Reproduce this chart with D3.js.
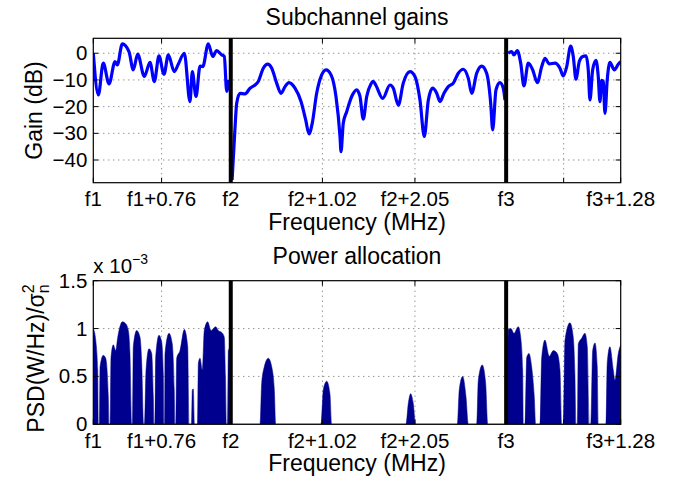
<!DOCTYPE html>
<html>
<head>
<meta charset="utf-8">
<script src="https://cdn.jsdelivr.net/npm/d3@7/dist/d3.min.js"></script>
<style>
  body { margin: 0; background: #fff; }
  svg { font-family: "Liberation Sans", Arial, Helvetica, sans-serif; }
</style>
</head>
<body>
<svg id="chart" width="675" height="481"></svg>
<script>
// frequency axis (MHz, bands glued together: f1 | f2 | f3)
const bandEdges = [1.53, 4.595];
const freqMax = 5.87;
const freqTicks = [0, 0.76, 1.53, 2.55, 3.58, 4.595, 5.235, 5.87];
const freqTickLabels = ['f1', 'f1+0.76', 'f2', 'f2+1.02', 'f2+2.05', 'f3', '', 'f3+1.28'];

const gainTicks = [0, -10, -20, -30, -40];
const psdTicks = [0, 0.5, 1, 1.5];
const psdTickLabels = ['0', '0.5', '1', '1.5'];

// subchannel gain, dB  [freq, gain]
const gainBand1 = [
  [0.000, 0], [0.056, -15.6], [0.111, -3.7], [0.175, -11.5], [0.242, -3.1], [0.267, -4.4],
  [0.323, 3.5], [0.397, 0.6], [0.445, -6.2], [0.494, -0.3], [0.568, -8.7], [0.631, -3.4],
  [0.679, -10.6], [0.731, -1], [0.787, -7.9], [0.835, -0.6], [0.901, -6.9], [0.946, -4.1],
  [1.013, 0], [1.076, -18.1], [1.102, -6.9], [1.143, -16.2], [1.188, -4.8], [1.218, -5],
  [1.280, 3.5], [1.329, -1.2], [1.373, 1], [1.429, -0.6], [1.458, -1.2], [1.485, -14.3],
  [1.510, -10]
];
const gainBand2 = [
  [1.545, -47.5], [1.576, -28.7], [1.596, -18.7], [1.633, -15], [1.689, -15.2], [1.745, -13.1],
  [1.800, -11.9], [1.836, -10.6], [1.892, -5.6], [1.941, -4.1], [1.986, -5.6], [2.041, -11.2],
  [2.089, -15], [2.134, -12.5], [2.178, -11], [2.245, -13.1], [2.312, -18.1], [2.364, -25],
  [2.401, -30.2], [2.437, -26.2], [2.486, -15], [2.542, -8.1], [2.590, -6.2], [2.646, -8.1],
  [2.701, -16.2], [2.746, -31.2], [2.757, -36.9], [2.782, -26.2], [2.820, -21.9], [2.876, -16.2],
  [2.932, -13.7], [2.968, -16.2], [3.005, -24.7], [3.043, -16.2], [3.090, -11.5], [3.115, -10.5],
  [3.145, -12], [3.221, -16.9], [3.302, -11.9], [3.339, -13.1], [3.395, -19.4], [3.450, -11.2],
  [3.525, -6.9], [3.580, -8.7], [3.636, -17.5], [3.684, -31.2], [3.729, -17.5], [3.777, -13.1],
  [3.822, -15], [3.859, -18.1], [3.903, -15], [3.951, -12.5], [4.007, -11.2], [4.062, -7.5],
  [4.118, -6], [4.174, -9.4], [4.212, -15], [4.267, -7.5], [4.323, -4.8], [4.378, -7.5],
  [4.423, -18.7], [4.445, -28.7], [4.482, -13.7], [4.526, -11], [4.563, -13.1], [4.582, -17.5]
];
const gainBand3 = [
  [4.619, 0], [4.657, 0.6], [4.682, -0.6], [4.719, 1], [4.757, -3.7], [4.793, -12.2],
  [4.841, -3.7], [4.890, -6.2], [4.942, -11], [4.991, -5], [5.027, -1.9], [5.075, -4],
  [5.139, -3.7], [5.194, -5.6], [5.231, -8.5], [5.269, -5], [5.313, 2.7], [5.342, -1.2],
  [5.372, -9.7], [5.409, -3.1], [5.447, -1.2], [5.484, -1], [5.509, -6.2], [5.528, -17.5],
  [5.558, -6.2], [5.595, -2.7], [5.620, -8.7], [5.639, -18.1], [5.658, -10.2], [5.676, -10.6],
  [5.695, -22.5], [5.720, -10], [5.750, -3.4], [5.799, -6.2], [5.843, -4.1], [5.870, -3.1]
];

// power allocation, PSD/sigma_n^2 in units of 1e-3  [freq, psd]
const psdBand1 = [
  [0.000, 1.0], [0.027, 0.88], [0.049, 0.57], [0.056, 0], [0.067, 0], [0.075, 0.6],
  [0.111, 0.72], [0.138, 0.69], [0.167, 0.29], [0.175, 0], [0.186, 0], [0.197, 0.70],
  [0.223, 0.83], [0.249, 0.77], [0.272, 0.91], [0.323, 1.07], [0.361, 1.05], [0.390, 0.98],
  [0.408, 0.74], [0.427, 0], [0.436, 0], [0.445, 0.81], [0.483, 0.98], [0.520, 0.91],
  [0.539, 0.64], [0.559, 0], [0.570, 0], [0.587, 0.57], [0.620, 0.79], [0.650, 0.74],
  [0.668, 0.29], [0.676, 0], [0.687, 0], [0.694, 0.70], [0.731, 0.93], [0.761, 0.86],
  [0.779, 0.53], [0.787, 0], [0.794, 0], [0.798, 0.74], [0.843, 0.95], [0.879, 0.84],
  [0.901, 0.36], [0.909, 0], [0.918, 0], [0.928, 0.69], [0.965, 0.77], [1.013, 0.99],
  [1.051, 0.81], [1.065, 0], [1.093, 0], [1.102, 0.36], [1.113, 0.37], [1.126, 0],
  [1.160, 0], [1.169, 0.64], [1.188, 0.69], [1.213, 0.57], [1.235, 0.98], [1.273, 1.07],
  [1.310, 0.98], [1.362, 1.02], [1.391, 0.98], [1.429, 0.96], [1.458, 0.91], [1.471, 0.5],
  [1.482, 0], [1.494, 0], [1.503, 0.77], [1.521, 0.8]
];
const psdBand2 = [
  [1.53, 0], [1.855, 0], [1.874, 0.43], [1.903, 0.6], [1.948, 0.69], [1.986, 0.6], [2.015, 0.36],
  [2.030, 0], [2.534, 0], [2.560, 0.36], [2.598, 0.45], [2.634, 0.32], [2.653, 0],
  [3.480, 0], [3.506, 0.22], [3.532, 0.32], [3.561, 0.22], [3.588, 0],
  [4.051, 0], [4.073, 0.36], [4.111, 0.5], [4.148, 0.29], [4.174, 0],
  [4.267, 0], [4.285, 0.46], [4.329, 0.62], [4.367, 0.43], [4.390, 0], [4.595, 0]
];
const psdBand3 = [
  [4.608, 0], [4.619, 0.99], [4.649, 1.0], [4.682, 0.95], [4.730, 1.02], [4.757, 0.91],
  [4.779, 0.57], [4.786, 0], [4.805, 0], [4.824, 0.7], [4.849, 0.74], [4.879, 0.6],
  [4.908, 0.29], [4.924, 0], [4.972, 0], [4.991, 0.7], [5.027, 0.88], [5.075, 0.71],
  [5.120, 0.77], [5.164, 0.74], [5.194, 0.57], [5.213, 0], [5.231, 0], [5.250, 0.88],
  [5.305, 1.06], [5.342, 0.91], [5.361, 0.5], [5.372, 0], [5.387, 0], [5.398, 0.84],
  [5.436, 0.9], [5.472, 0.95], [5.498, 0.81], [5.520, 0], [5.536, 0], [5.558, 0.77],
  [5.584, 0.85], [5.609, 0.6], [5.620, 0], [5.706, 0], [5.720, 0.64], [5.750, 0.81],
  [5.787, 0.57], [5.806, 0.46], [5.843, 0.74], [5.870, 0.83]
];

const svg = d3.select('#chart');
const left = 93.3, right = 620.7;
const tickLen = 5;

const xScale = d3.scaleLinear().domain([0, freqMax]).range([left, right]);
const yGain = d3.scaleLinear().domain([-48.5, 5.6]).range([182.7, 38.3]);
const yPsd = d3.scaleLinear().domain([0, 1.5]).range([424.3, 280.7]);

// frame, grid, ticks and labels for one subplot
function drawPanel(id, yScale, yTicks, yLabels) {
  const [bottom, top] = yScale.range();
  const g = svg.append('g').attr('id', id);

  svg.append('clipPath').attr('id', id + '-clip')
    .append('rect').attr('x', left).attr('y', top)
    .attr('width', right - left).attr('height', bottom - top);

  const grid = g.append('g').attr('stroke', '#000').attr('stroke-width', 0.8)
    .attr('stroke-dasharray', '1,4').attr('opacity', 0.75);
  freqTicks.filter(t => t > 0 && t < freqMax).forEach(t => {
    grid.append('line').attr('x1', xScale(t)).attr('x2', xScale(t))
      .attr('y1', top).attr('y2', bottom);
  });
  yTicks.forEach(t => {
    const y = yScale(t);
    if (Math.abs(y - top) < 1 || Math.abs(y - bottom) < 1) return;
    grid.append('line').attr('x1', left).attr('x2', right).attr('y1', y).attr('y2', y);
  });

  const data = g.append('g').attr('clip-path', `url(#${id}-clip)`);

  const ticks = svg.append('g').attr('stroke', '#000').attr('stroke-width', 1);
  freqTicks.forEach(t => {
    const x = xScale(t);
    ticks.append('line').attr('x1', x).attr('x2', x).attr('y1', bottom).attr('y2', bottom - tickLen);
    ticks.append('line').attr('x1', x).attr('x2', x).attr('y1', top).attr('y2', top + tickLen);
  });
  yTicks.forEach(t => {
    const y = yScale(t);
    ticks.append('line').attr('x1', left).attr('x2', left + tickLen).attr('y1', y).attr('y2', y);
    ticks.append('line').attr('x1', right).attr('x2', right - tickLen).attr('y1', y).attr('y2', y);
  });

  svg.append('g').selectAll('text').data(freqTicks).join('text')
    .attr('x', d => xScale(d)).attr('y', bottom + 23.5)
    .attr('text-anchor', 'middle').style('font-size', '20.5px')
    .text((d, i) => freqTickLabels[i]);

  svg.append('g').selectAll('text').data(yTicks).join('text')
    .attr('x', left - 6).attr('y', d => yScale(d) + 7)
    .attr('text-anchor', 'end').style('font-size', '20.5px')
    .text((d, i) => yLabels[i]);

  svg.append('text').attr('x', (left + right) / 2).attr('y', bottom + 47)
    .attr('text-anchor', 'middle').style('font-size', '23px')
    .text('Frequency (MHz)');

  return { g, data, top, bottom };
}

// ---- top: subchannel gains
const p1 = drawPanel('gain', yGain, gainTicks, gainTicks.map(d => d < 0 ? '\u2212' + (-d) : String(d)));

const gainLine = d3.line()
  .x(d => xScale(d[0]))
  .y(d => yGain(d[1]))
  .curve(d3.curveMonotoneX);

[gainBand1, gainBand2, gainBand3].forEach(band => {
  p1.data.append('path').attr('d', gainLine(band))
    .attr('fill', 'none').attr('stroke', '#0000ff')
    .attr('stroke-width', 3.2).attr('stroke-linejoin', 'round');
});

// ---- bottom: power allocation
const p2 = drawPanel('psd', yPsd, psdTicks, psdTickLabels);

const psdArea = d3.area()
  .x(d => xScale(d[0]))
  .y0(yPsd(0))
  .y1(d => yPsd(d[1]))
  .curve(d3.curveMonotoneX);

[psdBand1, psdBand2, psdBand3].forEach(band => {
  p2.data.append('path').attr('d', psdArea(band))
    .attr('fill', '#00008f').attr('stroke', '#00008f').attr('stroke-width', 0.5);
});

// band separators + boxes
[p1, p2].forEach(p => {
  bandEdges.forEach(f => {
    svg.append('line').attr('x1', xScale(f)).attr('x2', xScale(f))
      .attr('y1', p.top).attr('y2', p.bottom)
      .attr('stroke', '#000').attr('stroke-width', 4);
  });
  svg.append('rect').attr('x', left).attr('y', p.top)
    .attr('width', right - left).attr('height', p.bottom - p.top)
    .attr('fill', 'none').attr('stroke', '#000').attr('stroke-width', 1.2);
});

// titles and y labels
svg.append('text').attr('x', (left + right) / 2).attr('y', 25)
  .attr('text-anchor', 'middle').style('font-size', '23px').text('Subchannel gains');
svg.append('text').attr('x', (left + right) / 2).attr('y', 264)
  .attr('text-anchor', 'middle').style('font-size', '23px').text('Power allocation');

svg.append('text')
  .attr('transform', `translate(42,${(p1.top + p1.bottom) / 2}) rotate(-90)`)
  .attr('text-anchor', 'middle').style('font-size', '23px').text('Gain (dB)');

const psdLabel = svg.append('text')
  .attr('transform', `translate(44,${(p2.top + p2.bottom) / 2 + 6}) rotate(-90)`)
  .attr('text-anchor', 'middle').style('font-size', '23px');
psdLabel.append('tspan').text('PSD(W/Hz)/\u03c3');
psdLabel.append('tspan').attr('dy', -10).style('font-size', '16px').text('2');
psdLabel.append('tspan').attr('dx', -9).attr('dy', 15).style('font-size', '16px').text('n');

const expo = svg.append('text').attr('x', left).attr('y', 273).style('font-size', '20.5px');
expo.append('tspan').text('x 10');
expo.append('tspan').attr('dy', -9).style('font-size', '14px').text('\u22123');
</script>
</body>
</html>
